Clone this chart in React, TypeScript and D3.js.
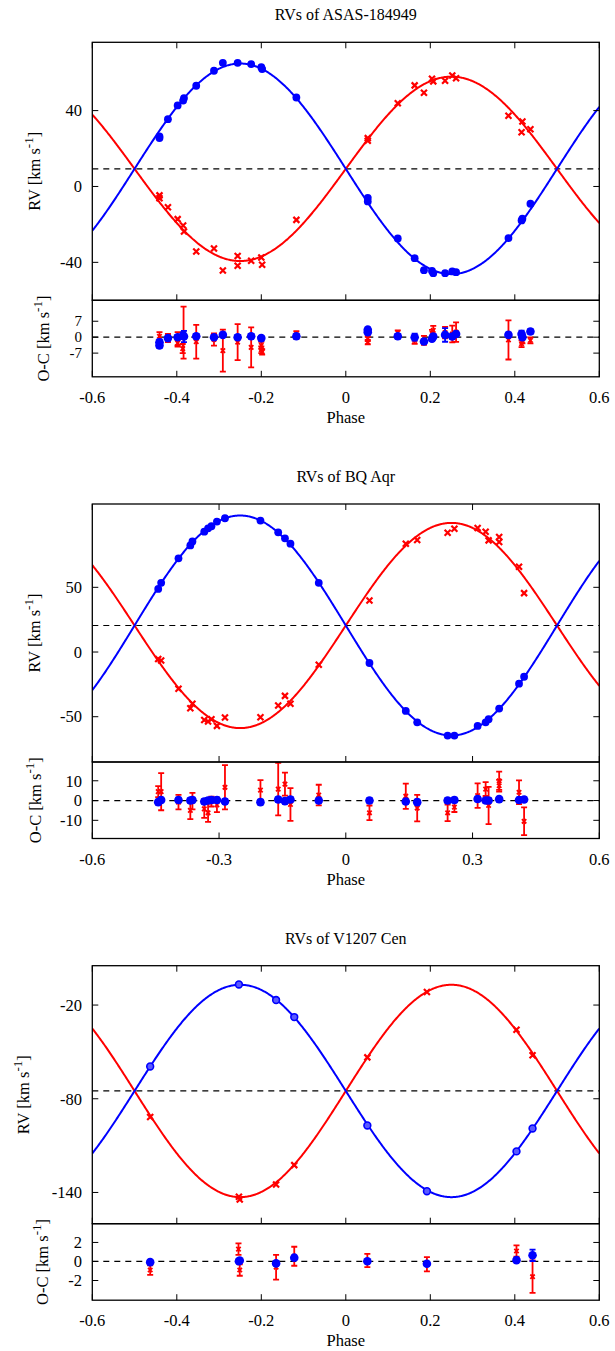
import React from "react";
import * as d3 from "d3";

// ---------------- DATA ----------------
// Orbital solution [gamma, K1 (primary, blue), K2 (secondary, red)]
const orbit1 = [9.3, 55.5, 48.6];
const orbit2 = [20.5, 85.0, 79.3];
const orbit3 = [-75.0, 68.0, 68.0];

const titles = ["RVs of ASAS-184949", "RVs of BQ Aqr", "RVs of V1207 Cen"];

// [phase, RV]
const p1Primary: [number, number][] = [
  [-0.441, 26.4], [-0.441, 25.5], [-0.421, 35.5], [-0.398, 42.7], [-0.385, 45.3], [-0.383, 46.6],
  [-0.354, 53.1], [-0.312, 61.0], [-0.291, 65.2], [-0.256, 65.2], [-0.224, 64.5], [-0.2, 62.9],
  [-0.198, 61.9], [-0.117, 46.9], [0.052, -6.0], [0.052, -7.9], [0.123, -27.4], [0.163, -37.8],
  [0.185, -44.1], [0.204, -44.5], [0.207, -45.7], [0.235, -45.7], [0.252, -44.8], [0.261, -45.2],
  [0.385, -27.2], [0.416, -17.9], [0.418, -17.0], [0.437, -9.1],
];
const p1Secondary: [number, number][] = [
  [-0.441, -4.7], [-0.441, -6.2], [-0.421, -10.9], [-0.398, -17.2], [-0.385, -20.6], [-0.383, -23.7],
  [-0.354, -34.3], [-0.312, -32.7], [-0.291, -44.3], [-0.256, -36.6], [-0.256, -41.8], [-0.224, -39.2],
  [-0.2, -37.4], [-0.198, -41.3], [-0.117, -17.6], [0.052, 25.5], [0.052, 24.1], [0.123, 43.9],
  [0.163, 53.3], [0.185, 49.4], [0.204, 56.8], [0.207, 55.4], [0.235, 55.7], [0.252, 58.5],
  [0.261, 57.1], [0.385, 37.3], [0.416, 28.6], [0.418, 34.3], [0.437, 30.2],
];
// [phase, O-C, error]
const p1PrimaryRes: [number, number, number][] = [
  [-0.441, -2.2, 1.2], [-0.441, -3.6, 1.2], [-0.421, -0.4, 1], [-0.398, 0, 1], [-0.385, 0.7, 1.5],
  [-0.383, 0.3, 2.5], [-0.354, 0.4, 1], [-0.312, 0, 1], [-0.291, 1, 1], [-0.256, 0, 1], [-0.224, 0.4, 1],
  [-0.2, -0.4, 1], [-0.117, 0.4, 1], [0.052, 3.3, 1], [0.052, 2.2, 1], [0.123, 0.4, 1], [0.163, 0, 1.5],
  [0.185, -1.9, 1], [0.204, -0.7, 1], [0.207, 0.3, 1], [0.235, 1, 3], [0.252, 0.3, 1], [0.261, 1.4, 1],
  [0.385, 1, 1], [0.416, 1.4, 1.5], [0.418, 0, 1], [0.437, 2.5, 1],
];
const p1SecondaryRes: [number, number, number][] = [
  [-0.441, 0.4, 1.8], [-0.421, -0.4, 1.8], [-0.398, -0.7, 2.9], [-0.398, -2.6, 1.5], [-0.384, 2, 11.4],
  [-0.386, -5, 2], [-0.354, -2, 7.4], [-0.312, -1, 2.7], [-0.291, -5.9, 9.2], [-0.256, -2.2, 7.9],
  [-0.224, -4.5, 8.8], [-0.2, -3.6, 1.5], [-0.2, -5.5, 1.5], [-0.198, -6.5, 1.2], [-0.117, 1, 1.6],
  [0.052, -0.7, 1], [0.052, -2.2, 1], [0.123, 2, 1], [0.163, -1.4, 1.5], [0.185, -1.4, 2],
  [0.204, 1.7, 1.5], [0.207, 3, 2], [0.235, 2, 2.5], [0.252, 1.4, 3.7], [0.261, 2.2, 4.3],
  [0.385, -1.2, 8.6], [0.416, -2.9, 1.5], [0.418, -1.5, 1.2], [0.437, -1.4, 1.3],
];

const p2Primary: [number, number][] = [
  [-0.444, 48.8], [-0.437, 53.5], [-0.396, 72.4], [-0.368, 82.4], [-0.363, 85.5], [-0.335, 93.0],
  [-0.326, 95.6], [-0.318, 97.2], [-0.305, 100.8], [-0.286, 103.4], [-0.202, 101.6], [-0.16, 92.5],
  [-0.144, 87.9], [-0.131, 83.7], [-0.064, 53.5], [0.056, -8.5], [0.142, -45.5], [0.169, -54.3],
  [0.241, -64.6], [0.257, -64.6], [0.312, -57.1], [0.331, -54.3], [0.338, -51.9], [0.363, -43.7],
  [0.41, -24.5], [0.422, -19.1],
];
const p2Secondary: [number, number][] = [
  [-0.444, -5.4], [-0.437, -6.5], [-0.396, -28.4], [-0.368, -43.4], [-0.363, -40.0], [-0.335, -52.5],
  [-0.326, -53.7], [-0.318, -51.9], [-0.305, -57.1], [-0.286, -50.6], [-0.202, -50.4], [-0.16, -41.3],
  [-0.144, -33.9], [-0.131, -40.0], [-0.064, -9.8], [0.056, 39.8], [0.142, 83.7], [0.169, 86.6],
  [0.241, 92.2], [0.257, 95.3], [0.312, 95.9], [0.331, 93.0], [0.338, 86.3], [0.363, 88.9],
  [0.363, 85.0], [0.41, 65.9], [0.422, 45.5],
];
const p2PrimaryRes: [number, number, number][] = [
  [-0.444, -0.8, 1.2], [-0.437, 0.3, 1.2], [-0.396, 0.3, 1.2], [-0.368, 0, 1.2], [-0.363, 0.3, 1.2],
  [-0.335, -0.5, 1.2], [-0.326, 0, 1.2], [-0.318, 0.3, 1.2], [-0.305, 0.3, 1.2], [-0.286, -0.5, 1.2],
  [-0.202, -0.8, 1.2], [-0.16, 0.5, 1.2], [-0.144, -0.3, 1.2], [-0.131, 0.5, 1.2], [-0.064, 0, 1.2],
  [0.056, 0, 1.2], [0.142, -0.5, 1.2], [0.169, -0.8, 1.2], [0.241, 0, 1.2], [0.257, 0.3, 1.2],
  [0.312, 0.8, 1.2], [0.331, 0, 1.2], [0.338, 0, 1.2], [0.363, 0.7, 1.2], [0.41, 0.3, 1.2], [0.422, 0.5, 1.2],
];
const p2SecondaryRes: [number, number, number][] = [
  [-0.444, 4.5, 2.8], [-0.437, 4.5, 9.4], [-0.396, -0.8, 3.7], [-0.368, -5, 4.4], [-0.363, -0.3, 4.2],
  [-0.335, -4.2, 4.6], [-0.326, -6.2, 4.6], [-0.318, -0.5, 2.5], [-0.305, -2.2, 3.7], [-0.286, 6.7, 11.2],
  [-0.202, 5.3, 5], [-0.16, 5.8, 13.3], [-0.144, 8.3, 5.8], [-0.131, -2, 8.3], [-0.064, 2.8, 5.2],
  [0.056, -6.2, 3.7], [0.142, 2.2, 6.4], [0.169, -3.8, 6.7], [0.241, -6.2, 4.2], [0.257, -3.3, 2.5],
  [0.312, 2.5, 6.2], [0.331, 5.8, 3.5], [0.338, -2.5, 9.4], [0.363, 10, 4.6], [0.363, 7.5, 3],
  [0.41, 4.2, 6], [0.422, -10.5, 7],
];

const p3Primary: [number, number][] = [
  [-0.463, -59.3], [-0.253, -6.8], [-0.165, -16.8], [-0.122, -27.7], [0.051, -97.1],
  [0.192, -139.2], [0.404, -113.7], [0.442, -99.0],
];
const p3Secondary: [number, number][] = [
  [-0.463, -91.7], [-0.253, -142.8], [-0.251, -144.5], [-0.165, -134.9], [-0.122, -122.5],
  [0.051, -53.5], [0.192, -11.7], [0.404, -35.8], [0.442, -52.2],
];
const p3PrimaryRes: [number, number, number][] = [
  [-0.463, -0.07, 0.15], [-0.253, 0.03, 0.15], [-0.251, 0.1, 0.15], [-0.165, -0.2, 0.2],
  [-0.122, 0.4, 0.2], [0.051, 0.03, 0.15], [0.192, -0.24, 0.2], [0.404, 0.14, 0.15], [0.442, 0.65, 0.6],
];
const p3SecondaryRes: [number, number, number][] = [
  [-0.463, -0.9, 0.5], [-0.254, 1.3, 0.6], [-0.251, -0.9, 0.6], [-0.165, -0.6, 1.3], [-0.122, 0.55, 1.0],
  [0.051, 0.1, 0.7], [0.192, -0.3, 0.75], [0.404, 1.1, 0.6], [0.442, -1.6, 1.7],
];

const xTicks1 = [-0.6, -0.4, -0.2, 0, 0.2, 0.4, 0.6];
const xTicks2 = [-0.6, -0.3, 0, 0.3, 0.6];
const rvTicks1 = [-40, 0, 40];
const rvTicks2 = [-50, 0, 50];
const rvTicks3 = [-140, -80, -20];
const ocTicks1 = [-7, 0, 7];
const ocTicks2 = [-10, 0, 10];
const ocTicks3 = [-2, 0, 2];

// ---------------- LAYOUT ----------------
const LEFT = 92.3;
const RIGHT = 599.3;
const MAIN_H = 258;
const RES_H = 76.5;
const FONT = "'Liberation Serif', 'DejaVu Serif', serif";
const BLUE = "#0000ff";
const RED = "#ff0000";
const TICK = 6;
const FS = 16.5;

const fmtX = (v: number) => (Math.abs(v) < 1e-9 ? "0" : String(+v.toFixed(1)));

function cross(cx: number, cy: number, s: number) {
  return `M${cx - s},${cy - s}L${cx + s},${cy + s}M${cx - s},${cy + s}L${cx + s},${cy - s}`;
}

function YLabel({ x, y, main }: { x: number; y: number; main: string }) {
  return (
    <text
      transform={`translate(${x},${y}) rotate(-90)`}
      textAnchor="middle"
      dy="0.35em"
      fontSize={FS}
      fontFamily={FONT}
    >
      {main} [km s
      <tspan dy="-7" fontSize={13}>-1</tspan>
      <tspan dy="7">]</tspan>
    </text>
  );
}

function Panel(props: any) {
  const {
    id, top, title, orbit, pri, sec, priRes, secRes, yDom, yTicks, rDom, rTicks, xTicks,
    rvX, ocX, open, rFS,
  } = props;
  const x = d3.scaleLinear().domain([-0.6, 0.6]).range([LEFT, RIGHT]);
  const mb = top + MAIN_H;
  const rb = mb + RES_H;
  const y = d3.scaleLinear().domain(yDom).range([mb, top]);
  const r = d3.scaleLinear().domain(rDom).range([rb, mb]);
  const [g, k1, k2] = orbit;
  const grid = d3.range(0, 601).map((i) => -0.6 + i * 0.002);
  const lineP = d3
    .line<number>()
    .x((p) => x(p))
    .y((p) => y(g - k1 * Math.sin(2 * Math.PI * p)));
  const lineS = d3
    .line<number>()
    .x((p) => x(p))
    .y((p) => y(g + k2 * Math.sin(2 * Math.PI * p)));
  const cx = (LEFT + RIGHT) / 2;

  const errBar = (d: [number, number, number], i: number, color: string, key: string) => {
    const px = x(d[0]);
    const y1 = r(d[1] - d[2]);
    const y2 = r(d[1] + d[2]);
    return (
      <g key={key + i} stroke={color} strokeWidth={1.8} fill="none">
        <line x1={px} x2={px} y1={y1} y2={y2} />
        <line x1={px - 3} x2={px + 3} y1={y1} y2={y1} />
        <line x1={px - 3} x2={px + 3} y1={y2} y2={y2} />
      </g>
    );
  };

  return (
    <g>
      <defs>
        <clipPath id={`main${id}`}>
          <rect x={LEFT} y={top} width={RIGHT - LEFT} height={MAIN_H} />
        </clipPath>
        <clipPath id={`res${id}`}>
          <rect x={LEFT} y={mb} width={RIGHT - LEFT} height={RES_H} />
        </clipPath>
      </defs>
      <text x={cx} y={top - 22} textAnchor="middle" fontSize={16} fontFamily={FONT}>
        {title}
      </text>

      {/* main panel */}
      <g clipPath={`url(#main${id})`}>
        <line x1={LEFT} x2={RIGHT} y1={y(g)} y2={y(g)} stroke="#000" strokeWidth={1.2} strokeDasharray="6,5" />
        <path d={lineS(grid) || ""} fill="none" stroke={RED} strokeWidth={2} />
        <path d={lineP(grid) || ""} fill="none" stroke={BLUE} strokeWidth={2} />
        {sec.map((d: [number, number], i: number) => (
          <path key={"s" + i} d={cross(x(d[0]), y(d[1]), 3)} stroke={RED} strokeWidth={2.2} fill="none" />
        ))}
        {pri.map((d: [number, number], i: number) =>
          open ? (
            <circle key={"p" + i} cx={x(d[0])} cy={y(d[1])} r={3.4} fill="#5a5aff" stroke={BLUE} strokeWidth={1.6} />
          ) : (
            <circle key={"p" + i} cx={x(d[0])} cy={y(d[1])} r={3.9} fill={BLUE} />
          )
        )}
      </g>

      {/* residual panel */}
      <g clipPath={`url(#res${id})`}>
        <line x1={LEFT} x2={RIGHT} y1={r(0)} y2={r(0)} stroke="#000" strokeWidth={1.2} strokeDasharray="6,5" />
        {secRes.map((d: [number, number, number], i: number) => errBar(d, i, RED, "se"))}
        {secRes.map((d: [number, number, number], i: number) => (
          <path key={"sm" + i} d={cross(x(d[0]), r(d[1]), 2.2)} stroke={RED} strokeWidth={1.8} fill="none" />
        ))}
        {priRes.map((d: [number, number, number], i: number) => errBar(d, i, BLUE, "pe"))}
        {priRes.map((d: [number, number, number], i: number) => (
          <circle key={"pm" + i} cx={x(d[0])} cy={r(d[1])} r={4.3} fill={BLUE} />
        ))}
      </g>

      {/* frames */}
      <rect x={LEFT} y={top} width={RIGHT - LEFT} height={MAIN_H} fill="none" stroke="#000" strokeWidth={1.3} />
      <rect x={LEFT} y={mb} width={RIGHT - LEFT} height={RES_H} fill="none" stroke="#000" strokeWidth={1.3} />

      {/* x ticks */}
      {xTicks.map((t: number) => (
        <g key={"xt" + t} stroke="#000" strokeWidth={1}>
          <line x1={x(t)} x2={x(t)} y1={top} y2={top + TICK} />
          <line x1={x(t)} x2={x(t)} y1={mb} y2={mb - TICK} />
          <line x1={x(t)} x2={x(t)} y1={rb} y2={rb - TICK} />
        </g>
      ))}
      {xTicks.map((t: number) => (
        <text key={"xl" + t} x={x(t)} y={rb + 26} textAnchor="middle" fontSize={FS} fontFamily={FONT}>
          {fmtX(t)}
        </text>
      ))}
      <text x={cx} y={rb + 46} textAnchor="middle" fontSize={FS} fontFamily={FONT}>
        Phase
      </text>

      {/* y ticks main */}
      {yTicks.map((t: number) => (
        <g key={"yt" + t}>
          <line x1={LEFT} x2={LEFT + TICK} y1={y(t)} y2={y(t)} stroke="#000" />
          <line x1={RIGHT} x2={RIGHT - TICK} y1={y(t)} y2={y(t)} stroke="#000" />
          <text x={82} y={y(t)} dy="0.35em" textAnchor="end" fontSize={FS} fontFamily={FONT}>
            {t}
          </text>
        </g>
      ))}
      {rTicks.map((t: number) => (
        <g key={"rt" + t}>
          <line x1={LEFT} x2={LEFT + TICK} y1={r(t)} y2={r(t)} stroke="#000" />
          <line x1={RIGHT} x2={RIGHT - TICK} y1={r(t)} y2={r(t)} stroke="#000" />
          <text x={82} y={r(t)} dy="0.35em" textAnchor="end" fontSize={rFS} fontFamily={FONT}>
            {t}
          </text>
        </g>
      ))}

      <YLabel x={rvX} y={(top + mb) / 2} main="RV" />
      <YLabel x={ocX} y={(mb + rb) / 2} main="O-C" />
    </g>
  );
}

export default function App() {
  return (
    <svg
      width={615}
      height={1351}
      viewBox="0 0 615 1351"
      style={{ position: "absolute", left: 0, top: 0, background: "#fff" }}
    >
      <rect x={0} y={0} width={615} height={1351} fill="#fff" />
      <Panel
        id={1} top={42.3} title={titles[0]} orbit={orbit1}
        pri={p1Primary} sec={p1Secondary} priRes={p1PrimaryRes} secRes={p1SecondaryRes}
        yDom={[-60, 76]} yTicks={rvTicks1} rDom={[-17.4, 16.2]} rTicks={ocTicks1}
        xTicks={xTicks1} rvX={34} ocX={43} open={false} rFS={15}
      />
      <Panel
        id={2} top={504} title={titles[1]} orbit={orbit2}
        pri={p2Primary} sec={p2Secondary} priRes={p2PrimaryRes} secRes={p2SecondaryRes}
        yDom={[-85, 114.4]} yTicks={rvTicks2} rDom={[-19.2, 19.5]} rTicks={ocTicks2}
        xTicks={xTicks2} rvX={34} ocX={35} open={false} rFS={FS}
      />
      <Panel
        id={3} top={965.7} title={titles[2]} orbit={orbit3}
        pri={p3Primary} sec={p3Secondary} priRes={p3PrimaryRes} secRes={p3SecondaryRes}
        yDom={[-160, 5.2]} yTicks={rvTicks3} rDom={[-4.07, 3.97]} rTicks={ocTicks3}
        xTicks={xTicks1} rvX={23} ocX={42} open={true} rFS={FS}
      />
    </svg>
  );
}
